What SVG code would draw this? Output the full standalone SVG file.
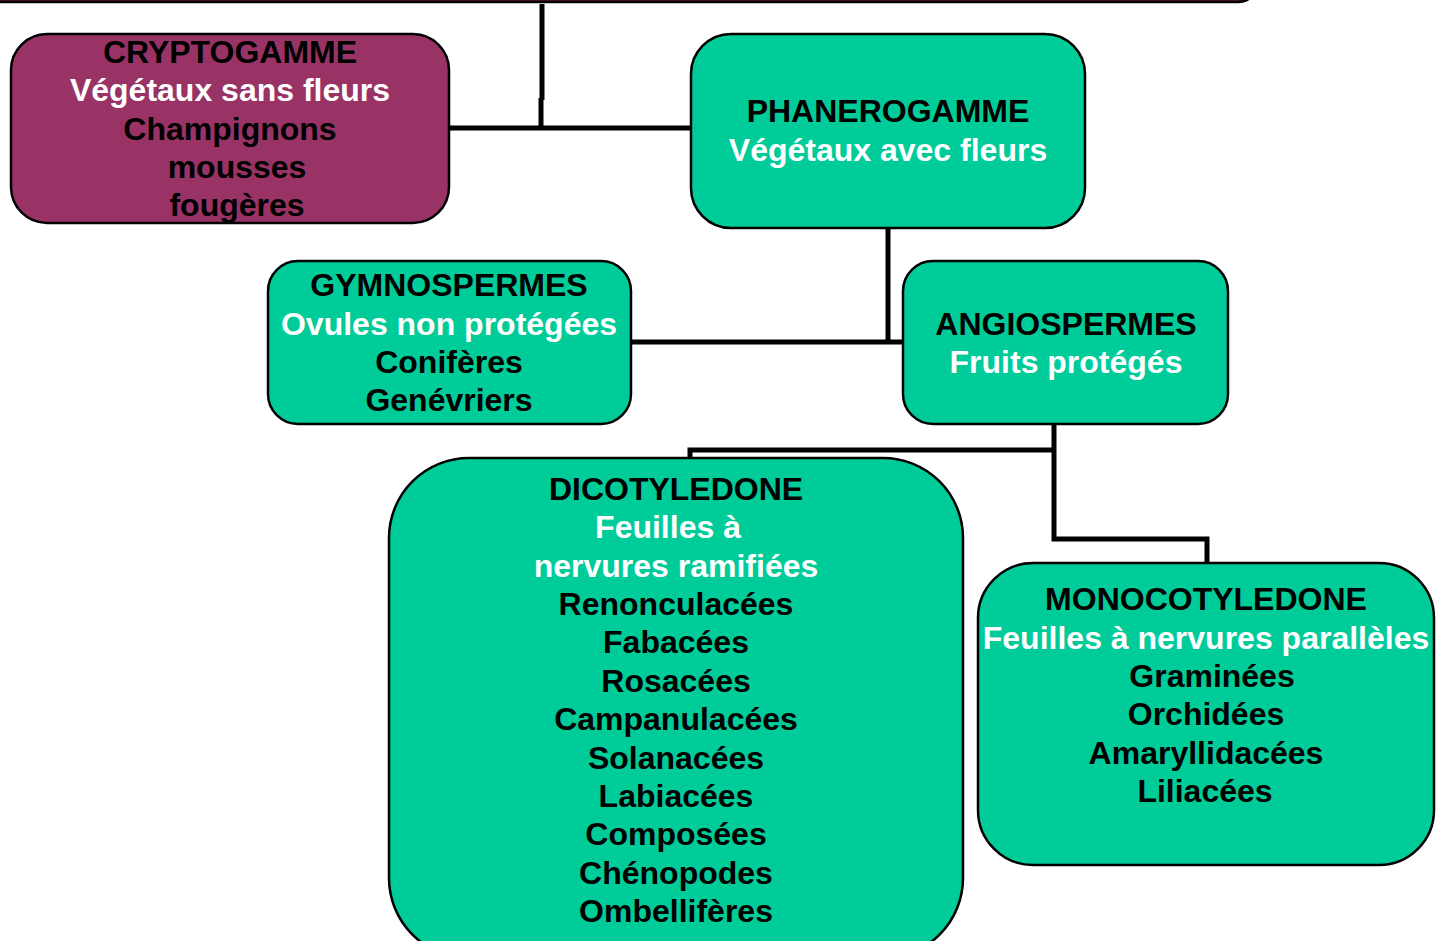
<svg xmlns="http://www.w3.org/2000/svg" width="1437" height="941" viewBox="0 0 1437 941">
<style>
.box{stroke:#000;stroke-width:2.5}
.g{fill:#00CC99}
.p{fill:#993366}
text{font-family:"Liberation Sans",Arial,sans-serif;font-weight:bold;font-size:32px;text-anchor:middle}
.w{fill:#fff}
.k{fill:#000}
.c{fill:none;stroke:#000;stroke-width:5}
</style>
<rect width="1437" height="941" fill="#fff"/>
<g id="connectors">
<path class="c" d="M542 4 V100 M541 98 V128"/>
<path class="c" d="M449 128 H691"/>
<path class="c" d="M888 228 V342 M631 342 H903"/>
<path class="c" d="M1054 424 V539 H1207 V563"/>
<path class="c" d="M1054 450 H690 V458"/>
</g>
<g id="top">
<rect class="box p" x="-30" y="-100" width="1288" height="102" rx="20" style="fill:#5a1a3a"/>
</g>
<g id="cryptogamme">
<rect class="box p" x="11" y="34" width="438" height="189" rx="36"/>
<text class="k" x="230" y="63">CRYPTOGAMME</text>
<text class="w" x="230" y="101">Végétaux sans fleurs</text>
<text class="k" x="230" y="140">Champignons</text>
<text class="k" x="237" y="178">mousses</text>
<text class="k" x="237" y="216">fougères</text>
</g>
<g id="phanerogamme">
<rect class="box g" x="691" y="34" width="394" height="194" rx="40"/>
<text class="k" x="888" y="122">PHANEROGAMME</text>
<text class="w" x="888" y="161">Végétaux avec fleurs</text>
</g>
<g id="gymnospermes">
<rect class="box g" x="268" y="261" width="363" height="163" rx="30"/>
<text class="k" x="449" y="296">GYMNOSPERMES</text>
<text class="w" x="449" y="335">Ovules non protégées</text>
<text class="k" x="449" y="373">Conifères</text>
<text class="k" x="449" y="411">Genévriers</text>
</g>
<g id="angiospermes">
<rect class="box g" x="903" y="261" width="325" height="163" rx="30"/>
<text class="k" x="1066" y="335">ANGIOSPERMES</text>
<text class="w" x="1066" y="373">Fruits protégés</text>
</g>
<g id="dicotyledone">
<rect class="box g" x="389" y="458" width="574" height="500" rx="80"/>
<text class="k" x="676" y="500">DICOTYLEDONE</text>
<text class="w" x="668" y="538">Feuilles à</text>
<text class="w" x="676" y="577">nervures ramifiées</text>
<text class="k" x="676" y="615">Renonculacées</text>
<text class="k" x="676" y="653">Fabacées</text>
<text class="k" x="676" y="692">Rosacées</text>
<text class="k" x="676" y="730">Campanulacées</text>
<text class="k" x="676" y="769">Solanacées</text>
<text class="k" x="676" y="807">Labiacées</text>
<text class="k" x="676" y="845">Composées</text>
<text class="k" x="676" y="884">Chénopodes</text>
<text class="k" x="676" y="922">Ombellifères</text>
</g>
<g id="monocotyledone">
<rect class="box g" x="978" y="563" width="456" height="302" rx="55"/>
<text class="k" x="1206" y="610">MONOCOTYLEDONE</text>
<text class="w" x="1206" y="649">Feuilles à nervures parallèles</text>
<text class="k" x="1212" y="687">Graminées</text>
<text class="k" x="1206" y="725">Orchidées</text>
<text class="k" x="1206" y="764">Amaryllidacées</text>
<text class="k" x="1205" y="802">Liliacées</text>
</g>
</svg>
